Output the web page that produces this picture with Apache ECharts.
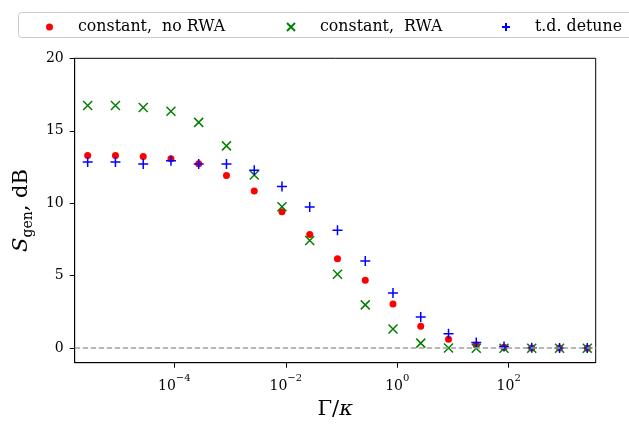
<!DOCTYPE html>
<html>
<head>
<meta charset="utf-8">
<script src="https://cdn.jsdelivr.net/npm/echarts@6/dist/echarts.min.js"></script>
<style>html,body{margin:0;padding:0;background:#fff}#c{width:629px;height:425px}</style>
</head>
<body>
<div id="c"></div>
<script>
// Γ/κ values of the points
var gammaOverKappa = [2.79e-6, 8.79e-6, 2.77e-5, 8.71e-5, 2.74e-4, 8.63e-4, 2.72e-3, 8.55e-3, 0.0269, 0.0847, 0.267, 0.839, 2.64, 8.32, 26.2, 82.4, 259, 817, 2570];
var constNoRWA = [13.30, 13.30, 13.23, 13.07, 12.72, 11.92, 10.84, 9.41, 7.85, 6.17, 4.69, 3.05, 1.51, 0.62, 0.22, 0.07, 0.02, 0.01, 0.0];
var constRWA   = [16.75, 16.75, 16.61, 16.35, 15.58, 13.96, 11.95, 9.76, 7.43, 5.10, 2.99, 1.33, 0.35, 0.02, 0.0, 0.0, 0.0, 0.0, 0.0];
var tdDetune   = [12.84, 12.84, 12.70, 12.94, 12.70, 12.70, 12.27, 11.15, 9.75, 8.13, 6.02, 3.80, 2.15, 0.99, 0.39, 0.12, 0.03, 0.02, 0.02];
var seriesNames = ['constant,  no RWA', 'constant,  RWA', 't.d. detune'];
var xTicks = [1e-4, 1e-2, 1, 100];
var yTicks = [0, 5, 10, 15, 20];
var xMin = 1.633e-6, xMax = 3639;
var yMin = -1, yMax = 20;
var zeroLevel = 0;

function pairs(ys) { return ys.map(function (y, i) { return [gammaOverKappa[i], y]; }); }

var FONT = 'DejaVu Serif';
var crossPath = 'path://M0,0L10,10M0,10L10,0';
var plusPath = 'path://M5,0L5,10M0,5L10,5';

var chart = echarts.init(document.getElementById('c'), null, {renderer: 'canvas'});
chart.setOption({
  animation: false,
  backgroundColor: '#fff',
  grid: {left: 74.7, right: 33.3, top: 58.3, bottom: 62.3, show: true, borderColor: '#000', borderWidth: 1, backgroundColor: 'transparent'},
  graphic: [{
    type: 'rect', left: 18, top: 12, z: 0,
    shape: {width: 640, height: 25, r: 3},
    style: {fill: '#fff', stroke: '#cccccc', lineWidth: 1}
  }],
  legend: [
    {data: [seriesNames[0]], left: 41, top: 14, itemWidth: 7, itemHeight: 7, itemGap: 0,
     textStyle: {fontFamily: FONT, fontSize: 15.8, color: '#000', padding: [0, 0, 0, 20]}},
    {data: [seriesNames[1]], left: 281, top: 14, itemWidth: 8, itemHeight: 8, itemGap: 0,
     textStyle: {fontFamily: FONT, fontSize: 15.8, color: '#000', padding: [0, 0, 0, 20]}},
    {data: [seriesNames[2]], left: 496, top: 14, itemWidth: 8, itemHeight: 8, itemGap: 0,
     textStyle: {fontFamily: FONT, fontSize: 15.8, color: '#000', padding: [0, 0, 0, 20]}}
  ],
  xAxis: {
    type: 'log', min: xMin, max: xMax, logBase: 10,
    name: '{g|Γ/}{k|κ}', nameLocation: 'middle', nameGap: 35,
    nameTextStyle: {rich: {
      g: {fontFamily: FONT, fontSize: 21, color: '#000'},
      k: {fontFamily: FONT, fontSize: 21, fontStyle: 'italic', color: '#000'}
    }},
    axisLine: {show: true, onZero: false, lineStyle: {color: '#000', width: 1}},
    axisTick: {show: true, length: 5, inside: false, customValues: xTicks, lineStyle: {color: '#000', width: 1}},
    minorTick: {show: false},
    splitLine: {show: false},
    axisLabel: {
      customValues: xTicks, margin: 11,
      formatter: function (v) {
        var e = Math.round(Math.log10(v));
        return '{b|10}{s|' + (e < 0 ? '−' + (-e) : e) + '}';
      },
      rich: {
        b: {fontFamily: FONT, fontSize: 14, color: '#000', lineHeight: 20, verticalAlign: 'bottom'},
        s: {fontFamily: FONT, fontSize: 10, color: '#000', lineHeight: 10, verticalAlign: 'top'}
      }
    }
  },
  yAxis: {
    type: 'value', min: yMin, max: yMax,
    name: '{s|S}{sub|gen}{n|, dB}', nameLocation: 'middle', nameGap: 31, nameRotate: 90,
    nameTextStyle: {rich: {
      s: {fontFamily: FONT, fontSize: 21, fontStyle: 'italic', color: '#000', lineHeight: 26, verticalAlign: 'middle'},
      sub: {fontFamily: FONT, fontSize: 14, color: '#000', lineHeight: 12, verticalAlign: 'bottom'},
      n: {fontFamily: FONT, fontSize: 21, color: '#000', lineHeight: 26, verticalAlign: 'middle'}
    }},
    axisLine: {show: true, onZero: false, lineStyle: {color: '#000', width: 1}},
    axisTick: {show: true, length: 5, customValues: yTicks, lineStyle: {color: '#000', width: 1}},
    splitLine: {show: false},
    axisLabel: {customValues: yTicks, margin: 11, fontFamily: FONT, fontSize: 14, color: '#000'}
  },
  series: [
    {name: seriesNames[0], type: 'scatter', data: pairs(constNoRWA), symbol: 'circle', symbolSize: 7, z: 2,
     itemStyle: {color: '#ff0000', opacity: 1},
     markLine: {silent: true, symbol: ['none', 'none'], label: {show: false}, animation: false,
       lineStyle: {color: '#a0a0a0', width: 1.5, type: [5.5, 2.5], opacity: 1},
       emphasis: {disabled: true},
       data: [{yAxis: zeroLevel}]}},
    {name: seriesNames[1], type: 'scatter', data: pairs(constRWA), symbol: crossPath, symbolSize: 9, z: 3,
     itemStyle: {color: 'rgba(0,0,0,0)', borderColor: '#008000', borderWidth: 1.5, opacity: 1}},
    {name: seriesNames[2], type: 'scatter', data: pairs(tdDetune), symbol: plusPath, symbolSize: 10, z: 4,
     itemStyle: {color: 'rgba(0,0,0,0)', borderColor: '#0000ff', borderWidth: 1.5, opacity: 1}}
  ]
});
</script>
</body>
</html>
